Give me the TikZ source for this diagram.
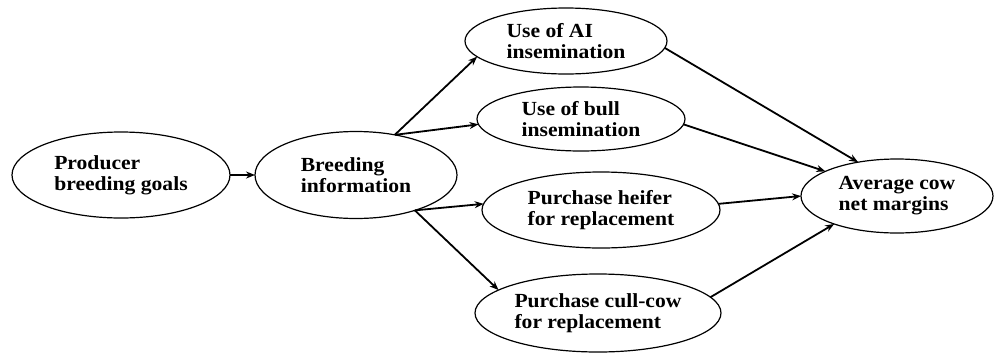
\documentclass[tikz,border=0pt]{standalone}
\usepackage{fontspec}
\setmainfont{Liberation Serif}[FakeStretch=1.08]
\usetikzlibrary{shapes.geometric,arrows.meta}
\begin{document}
\begin{tikzpicture}[x=1pt,y=-1pt,inner sep=0pt,outer sep=0pt,line width=1.8pt,
>={Stealth[length=9pt,width=7pt]},
goal/.style={draw,ellipse,line width=1.2pt,align=left,
  font=\fontsize{20}{21}\selectfont\bfseries}]
\useasboundingbox (0,0) rectangle (994,354);
\draw (121,175) node[goal,minimum width=218pt,minimum height=86pt] (prod) {Producer\\breeding goals};
\draw (356,175) node[goal,minimum width=202pt,minimum height=87pt] (brd) {Breeding\\information};
\draw (566,41) node[goal,minimum width=202pt,minimum height=66pt] (ai) {Use of AI\\insemination};
\draw (581,119) node[goal,minimum width=208pt,minimum height=64pt] (bull) {Use of bull\\insemination};
\draw (601,210) node[goal,minimum width=238pt,minimum height=76pt] (heifer) {Purchase heifer\\for replacement};
\draw (598,313) node[goal,minimum width=246pt,minimum height=78pt] (cull) {Purchase cull-cow\\for replacement};
\draw (897,196) node[goal,minimum width=192pt,minimum height=74pt] (margin) {Average cow\\net margins};
\draw[->] (prod.east) -- (brd.west);
\draw[->] (brd.46) -- (ai.190);
\draw[->] (brd.46) -- (bull.183);
\draw[->] (brd.-31) -- (heifer.177);
\draw[->] (brd.-31) -- (cull.167);
\draw[->] (ai.-4) -- (margin.139);
\draw[->] (bull.-3) -- (margin.161);
\draw[->] (heifer.3) -- (margin.180);
\draw[->] (cull.8) -- (margin.204);
\end{tikzpicture}
\end{document}
